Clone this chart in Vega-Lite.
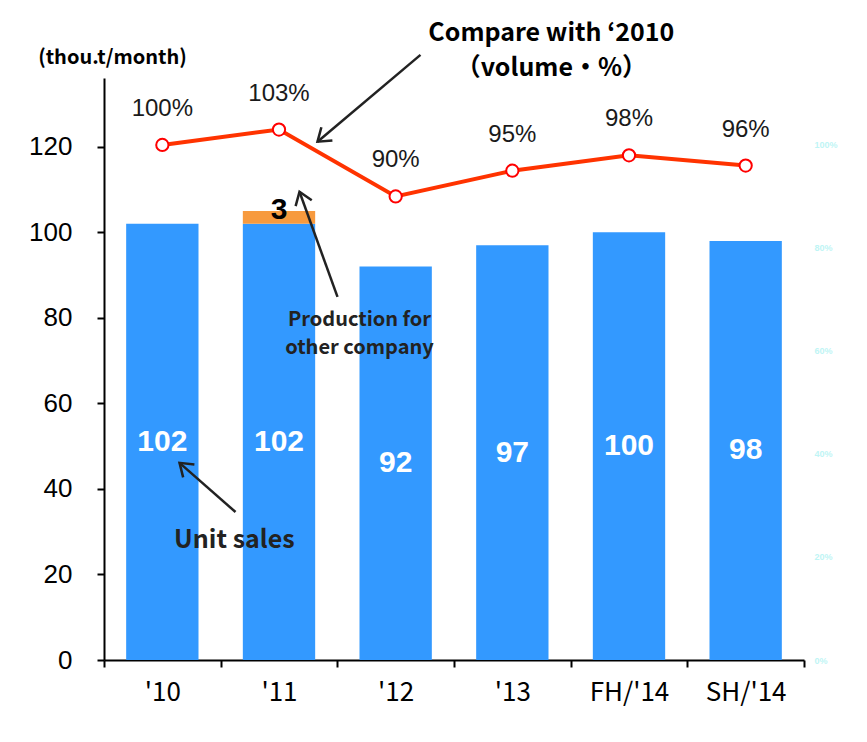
{
  "$schema": "https://vega.github.io/schema/vega-lite/v6.json",
  "width": 700,
  "height": 582,
  "autosize": {"type": "none"},
  "padding": {"left": 104, "top": 78, "right": 63, "bottom": 82},
  "background": "white",
  "config": {"view": {"stroke": null}, "axis": {"grid": false}},
  "datasets": {
    "main": [
      {"cat": "'10", "unit": 102, "other": 0, "pct": 1.00},
      {"cat": "'11", "unit": 102, "other": 3, "pct": 1.03},
      {"cat": "'12", "unit": 92, "other": 0, "pct": 0.90},
      {"cat": "'13", "unit": 97, "other": 0, "pct": 0.95},
      {"cat": "FH/'14", "unit": 100, "other": 0, "pct": 0.98},
      {"cat": "SH/'14", "unit": 98, "other": 0, "pct": 0.96}
    ]
  },
  "data": {"name": "main"},
  "layer": [
    {
      "transform": [
        {"fold": ["unit", "other"], "as": ["key", "value"]},
        {"stack": "value", "groupby": ["cat"], "sort": [{"field": "key", "order": "descending"}], "as": ["v0", "v1"]}
      ],
      "mark": {"type": "bar", "width": {"band": 0.62}},
      "encoding": {
        "x": {
          "field": "cat", "type": "nominal", "sort": null, "title": null,
          "scale": {"domain": ["'10", "'11", "'12", "'13", "FH/'14", "SH/'14"], "paddingInner": 0, "paddingOuter": 0},
          "axis": {
            "labelAngle": 0, "labelFont": "Noto Sans CJK JP", "labelFontSize": 26, "labelColor": "#000",
            "labelPadding": 12, "domainColor": "#000", "domainWidth": 2, "tickColor": "#000", "tickWidth": 2,
            "tickSize": 7, "tickBand": "extent"
          }
        },
        "y": {
          "field": "v0", "type": "quantitative",
          "scale": {"domain": [0, 136.1], "nice": false},
          "axis": {
            "values": [0, 20, 40, 60, 80, 100, 120], "labelFont": "Liberation Sans", "labelFontSize": 26,
            "labelColor": "#000", "labelPadding": 25, "domainColor": "#000", "domainWidth": 2,
            "tickColor": "#000", "tickWidth": 2, "tickSize": 7,
            "title": "(thou.t/month)", "titleAngle": 0, "titleFont": "Noto Sans CJK JP", "titleFontSize": 20,
            "titleFontWeight": "bold", "titleColor": "#000", "titleAlign": "center", "titleBaseline": "middle",
            "titleX": 8, "titleY": -21
          }
        },
        "y2": {"field": "v1"},
        "color": {
          "field": "key", "type": "nominal", "legend": null,
          "scale": {"domain": ["unit", "other"], "range": ["#3399FF", "#F79A3E"]}
        }
      }
    },
    {
      "transform": [
        {"fold": ["unit", "other"], "as": ["key", "value"]},
        {"stack": "value", "groupby": ["cat"], "sort": [{"field": "key", "order": "descending"}], "as": ["v0", "v1"]},
        {"filter": "datum.key == 'other' && datum.value > 0"}
      ],
      "mark": {"type": "text", "font": "Liberation Sans", "fontSize": 30, "fontWeight": "bold", "color": "#000", "baseline": "middle", "dy": -1},
      "encoding": {
        "x": {"field": "cat", "type": "nominal", "sort": null, "title": null},
        "y": {"field": "v1", "type": "quantitative", "scale": {"domain": [0, 136.1], "nice": false}, "axis": null},
        "text": {"field": "value", "type": "quantitative"}
      }
    },
    {
      "mark": {"type": "text", "font": "Liberation Sans", "fontSize": 30, "fontWeight": "bold", "color": "#FFFFFF", "baseline": "middle"},
      "encoding": {
        "x": {"field": "cat", "type": "nominal", "sort": null, "title": null},
        "y": {"field": "unit", "type": "quantitative", "scale": {"domain": [0, 272.2], "nice": false}, "axis": null},
        "text": {"field": "unit", "type": "quantitative"}
      }
    },
    {
      "mark": {"type": "line", "color": "#FF3300", "strokeWidth": 4},
      "encoding": {
        "x": {"field": "cat", "type": "nominal", "sort": null, "title": null},
        "y": {
          "field": "pct", "type": "quantitative", "scale": {"domain": [0, 1.13], "nice": false},
          "axis": {
            "orient": "right", "values": [0, 0.2, 0.4, 0.6, 0.8, 1.0], "format": ".0%", "labelColor": "#BFF5F5",
            "labelFontSize": 9, "labelFontWeight": "bold", "labelFont": "Liberation Sans", "labelPadding": 10,
            "domain": false, "ticks": false, "title": null
          }
        }
      }
    },
    {
      "mark": {"type": "point", "shape": "circle", "filled": true, "fill": "#FFFFFF", "stroke": "#FF0000", "strokeWidth": 2, "size": 150, "opacity": 1},
      "encoding": {
        "x": {"field": "cat", "type": "nominal", "sort": null, "title": null},
        "y": {"field": "pct", "type": "quantitative", "scale": {"domain": [0, 1.13], "nice": false}, "axis": null}
      }
    },
    {
      "mark": {"type": "text", "font": "Liberation Sans", "fontSize": 24, "color": "#1a1a1a", "baseline": "middle", "dy": -36},
      "encoding": {
        "x": {"field": "cat", "type": "nominal", "sort": null, "title": null},
        "y": {"field": "pct", "type": "quantitative", "scale": {"domain": [0, 1.13], "nice": false}, "axis": null},
        "text": {"field": "pct", "type": "quantitative", "format": ".0%"}
      }
    },
    {
      "data": {"values": [{}]},
      "mark": {"type": "text", "font": "Noto Sans CJK JP", "fontSize": 25, "fontWeight": "bold", "color": "#000", "baseline": "middle", "align": "center", "xOffset": 39, "lineHeight": 35, "lineBreak": "\n"},
      "encoding": {
        "x": {"datum": "'13", "type": "nominal", "title": null},
        "y": {"datum": 146.7, "type": "quantitative", "scale": {"domain": [0, 136.1], "nice": false}, "axis": null},
        "text": {"value": "Compare with ‘2010\n（volume・%）"}
      }
    },
    {
      "data": {"values": [{}]},
      "mark": {"type": "text", "font": "Noto Sans CJK JP", "fontSize": 20, "fontWeight": "bold", "color": "#222", "baseline": "middle", "align": "center", "xOffset": 80.5, "lineHeight": 28, "lineBreak": "\n"},
      "encoding": {
        "x": {"datum": "'11", "type": "nominal", "title": null},
        "y": {"datum": 79.5, "type": "quantitative", "scale": {"domain": [0, 136.1], "nice": false}, "axis": null},
        "text": {"value": "Production for\nother company"}
      }
    },
    {
      "data": {"values": [{}]},
      "mark": {"type": "text", "font": "Noto Sans CJK JP", "fontSize": 25, "fontWeight": "bold", "color": "#222", "baseline": "middle", "align": "center", "xOffset": 72},
      "encoding": {
        "x": {"datum": "'10", "type": "nominal", "title": null},
        "y": {"datum": 28.1, "type": "quantitative", "scale": {"domain": [0, 136.1], "nice": false}, "axis": null},
        "text": {"value": "Unit sales"}
      }
    },
    {
      "data": {"values": [{}]},
      "mark": {"type": "rule", "color": "#222", "strokeWidth": 2.5, "xOffset": 24.8, "x2Offset": 38.5},
      "encoding": {
        "x": {"datum": "'12", "type": "nominal", "title": null},
        "x2": {"datum": "'11"},
        "y": {"datum": 141.5, "type": "quantitative", "scale": {"domain": [0, 136.1], "nice": false}, "axis": null},
        "y2": {"datum": 121.2}
      }
    },
    {
      "data": {"values": [{}]},
      "mark": {"type": "point", "shape": "M-0.7,1L0,0L0.7,1", "filled": false, "stroke": "#222", "strokeWidth": 2.5, "size": 600, "angle": 230, "xOffset": 38.5, "opacity": 1},
      "encoding": {
        "x": {"datum": "'11", "type": "nominal", "title": null},
        "y": {"datum": 121.2, "type": "quantitative", "scale": {"domain": [0, 136.1], "nice": false}, "axis": null}
      }
    },
    {
      "data": {"values": [{}]},
      "mark": {"type": "rule", "color": "#222", "strokeWidth": 2.5, "xOffset": 58.5, "x2Offset": 20.5},
      "encoding": {
        "x": {"datum": "'11", "type": "nominal", "title": null},
        "x2": {"datum": "'11"},
        "y": {"datum": 84.9, "type": "quantitative", "scale": {"domain": [0, 136.1], "nice": false}, "axis": null},
        "y2": {"datum": 109.5}
      }
    },
    {
      "data": {"values": [{}]},
      "mark": {"type": "point", "shape": "M-0.7,1L0,0L0.7,1", "filled": false, "stroke": "#222", "strokeWidth": 2.5, "size": 600, "angle": 340, "xOffset": 20.5, "opacity": 1},
      "encoding": {
        "x": {"datum": "'11", "type": "nominal", "title": null},
        "y": {"datum": 109.5, "type": "quantitative", "scale": {"domain": [0, 136.1], "nice": false}, "axis": null}
      }
    },
    {
      "data": {"values": [{}]},
      "mark": {"type": "rule", "color": "#222", "strokeWidth": 2.5, "xOffset": 73.2, "x2Offset": 17.2},
      "encoding": {
        "x": {"datum": "'10", "type": "nominal", "title": null},
        "x2": {"datum": "'10"},
        "y": {"datum": 34.6, "type": "quantitative", "scale": {"domain": [0, 136.1], "nice": false}, "axis": null},
        "y2": {"datum": 46.1}
      }
    },
    {
      "data": {"values": [{}]},
      "mark": {"type": "point", "shape": "M-0.7,1L0,0L0.7,1", "filled": false, "stroke": "#222", "strokeWidth": 2.5, "size": 600, "angle": 311, "xOffset": 17.2, "opacity": 1},
      "encoding": {
        "x": {"datum": "'10", "type": "nominal", "title": null},
        "y": {"datum": 46.1, "type": "quantitative", "scale": {"domain": [0, 136.1], "nice": false}, "axis": null}
      }
    }
  ],
  "resolve": {"scale": {"y": "independent"}}
}
